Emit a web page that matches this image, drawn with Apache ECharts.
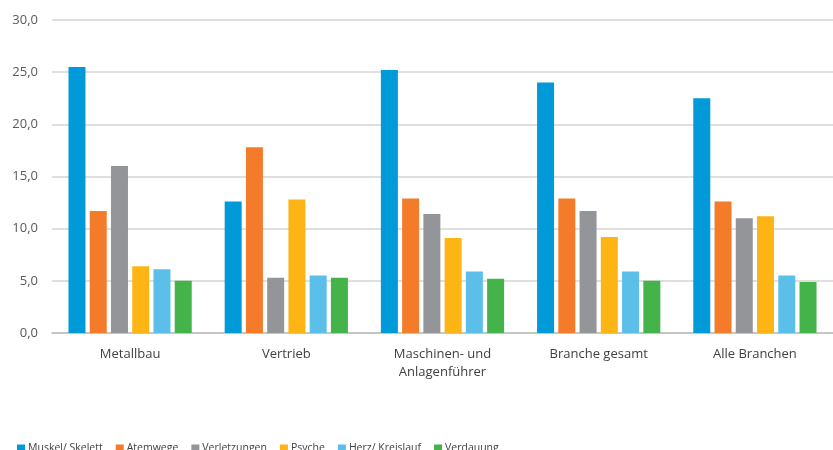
<!DOCTYPE html>
<html>
<head>
<meta charset="utf-8">
<script src="https://cdn.jsdelivr.net/npm/echarts@6/dist/echarts.min.js"></script>
<style>
  html, body { margin: 0; padding: 0; background: #fff; }
  #chart { width: 833px; height: 450px; }
</style>
</head>
<body>
<div id="chart"></div>
<script>
var categories = ['Metallbau', 'Vertrieb', 'Maschinen- und\nAnlagenführer', 'Branche gesamt', 'Alle Branchen'];

var muskelSkelett = [25.5, 12.6, 25.2, 24.0, 22.5];
var atemwege      = [11.7, 17.8, 12.9, 12.9, 12.6];
var verletzungen  = [16.0, 5.3, 11.4, 11.7, 11.0];
var psyche        = [6.4, 12.8, 9.1, 9.2, 11.2];
var herzKreislauf = [6.1, 5.5, 5.9, 5.9, 5.5];
var verdauung     = [5.0, 5.3, 5.2, 5.0, 4.9];

var seriesNames = ['Muskel/ Skelett', 'Atemwege', 'Verletzungen', 'Psyche', 'Herz/ Kreislauf', 'Verdauung'];
var seriesData = [muskelSkelett, atemwege, verletzungen, psyche, herzKreislauf, verdauung];
var colors = ['#009ad9', '#f47b2a', '#939598', '#fdb515', '#5bbfe9', '#44b34a'];

var chart = echarts.init(document.getElementById('chart'));

var series = seriesNames.map(function (name, i) {
  return {
    name: name,
    type: 'bar',
    barWidth: 17,
    barGap: '25%',
    data: seriesData[i],
    itemStyle: { color: colors[i] }
  };
});

chart.setOption({
  animation: false,
  color: colors,
  textStyle: { fontFamily: 'Open Sans' },
  grid: { left: 52, right: 0, top: 20, bottom: 117 },
  legend: {
    left: 12,
    top: 438,
    itemWidth: 8,
    itemHeight: 8,
    itemGap: 13,
    icon: 'rect',
    textStyle: { fontFamily: 'Open Sans', fontSize: 10.5, color: '#404040', padding: [0, 0, 0, -2] },
    data: seriesNames
  },
  xAxis: {
    type: 'category',
    data: categories,
    axisLine: { lineStyle: { color: '#bfbfbf', width: 1.5 } },
    axisTick: { show: false },
    axisLabel: { color: '#404040', fontSize: 13, margin: 12, lineHeight: 18 }
  },
  yAxis: {
    type: 'value',
    min: 0,
    max: 30,
    interval: 5,
    axisLine: { show: false },
    axisTick: { show: false },
    splitLine: { lineStyle: { color: '#d4d4d4', width: 1.5 } },
    axisLabel: {
      color: '#595959',
      fontSize: 13,
      margin: 14,
      formatter: function (v) { return v.toFixed(1).replace('.', ','); }
    }
  },
  series: series
});
</script>
</body>
</html>
